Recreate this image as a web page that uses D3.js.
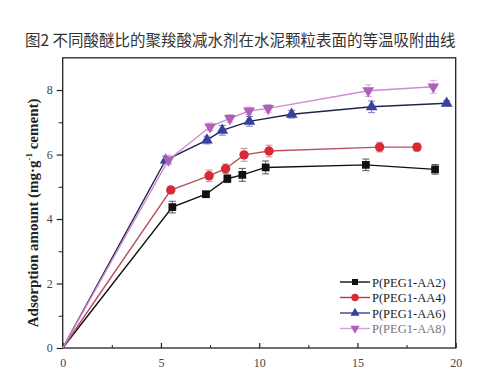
<!DOCTYPE html>
<meta charset="utf-8">
<style>
body { margin: 0; background: #fff; }
.title { font-family: "Noto Sans CJK SC", sans-serif; font-size: 15.5px; fill: #333; }
.axis text { font-family: "Liberation Serif", serif; font-size: 12px; fill: #444; }
.ylab { font-family: "Liberation Serif", serif; font-size: 15px; font-weight: bold; fill: #222; }
.legend text { font-family: "Liberation Serif", serif; font-size: 12.5px; }
</style>
<body>
<div id="chart"></div>
<script src="https://d3js.org/d3.v7.min.js"></script>
<script>

// time (x) and adsorption (y) for each polymer, with error bars
var names = ["P(PEG1-AA2)", "P(PEG1-AA4)", "P(PEG1-AA6)", "P(PEG1-AA8)"];
var xAA2 = [0, 5.58, 7.29, 8.38, 9.14, 10.33, 15.43, 18.95];
var yAA2 = [0, 4.37, 4.77, 5.25, 5.37, 5.60, 5.68, 5.54];
var eAA2 = [0, 0.18, 0.08, 0.12, 0.2, 0.2, 0.18, 0.15];
var xAA4 = [0, 5.50, 7.45, 8.29, 9.23, 10.5, 16.13, 18.03];
var yAA4 = [0, 4.90, 5.34, 5.56, 5.99, 6.11, 6.23, 6.23];
var eAA4 = [0, 0.1, 0.18, 0.15, 0.2, 0.18, 0.15, 0.12];
var xAA6 = [0, 5.24, 7.34, 8.12, 9.5, 11.65, 15.72, 19.54];
var yAA6 = [0, 5.83, 6.45, 6.75, 7.03, 7.25, 7.48, 7.59];
var eAA6 = [0, 0.12, 0.12, 0.15, 0.15, 0.12, 0.18, 0.08];
var xAA8 = [0, 5.38, 7.5, 8.51, 9.48, 10.46, 15.55, 18.86];
var yAA8 = [0, 5.83, 6.86, 7.12, 7.35, 7.43, 7.98, 8.10];
var eAA8 = [0, 0.15, 0.12, 0.12, 0.12, 0.12, 0.18, 0.2];
var xTicks = [0, 5, 10, 15, 20];
var yTicks = [0, 2, 4, 6, 8];

var series = [
  {name: names[0], x: xAA2, y: yAA2, e: eAA2, line: "#111", fill: "#111", err: "#555", sym: d3.symbolSquare, size: 60},
  {name: names[1], x: xAA4, y: yAA4, e: eAA4, line: "#b8505c", fill: "#d62a35", err: "#e08890", sym: d3.symbolCircle, size: 70},
  {name: names[2], x: xAA6, y: yAA6, e: eAA6, line: "#22224e", fill: "#38409e", err: "#7a7fb8", sym: d3.symbolTriangle, size: 60},
  {name: names[3], x: xAA8, y: yAA8, e: eAA8, line: "#d08ad0", fill: "#b060b8", err: "#d8a8d8", sym: d3.symbolTriangle, size: 60, flip: true}
];

var W = 485, H = 371;
var svg = d3.select("#chart").append("svg").attr("width", W).attr("height", H);

svg.append("text").attr("class", "title")
  .attr("x", 25).attr("y", 46)
  .text("图2 不同酸醚比的聚羧酸减水剂在水泥颗粒表面的等温吸附曲线");

var x = d3.scaleLinear().domain([0, 20]).range([62.7, 455.7]);
var y = d3.scaleLinear().domain([0, 9]).range([348, 57.8]);

// frame
var g = svg.append("g");
g.append("rect").attr("x", x(0)).attr("y", y(9)).attr("width", x(20) - x(0)).attr("height", y(0) - y(9))
  .attr("fill", "none").attr("stroke", "#222").attr("stroke-width", 1.3);

// x axis, ticks inward
var xAxis = g.append("g").attr("class", "axis").attr("transform", "translate(0," + y(0) + ")")
  .call(d3.axisBottom(x).tickValues(xTicks).tickSize(-5).tickPadding(10).tickFormat(d3.format("d")));
xAxis.select(".domain").remove();
xAxis.selectAll("line").attr("stroke", "#222").attr("stroke-width", 1.2);
g.append("g").attr("transform", "translate(0," + y(0) + ")")
  .call(d3.axisBottom(x).tickValues([2.5, 7.5, 12.5, 17.5]).tickSize(-3).tickFormat(""))
  .call(s => s.select(".domain").remove())
  .selectAll("line").attr("stroke", "#222");

// y axis, ticks outward
var yAxis = g.append("g").attr("class", "axis").attr("transform", "translate(" + x(0) + ",0)")
  .call(d3.axisLeft(y).tickValues(yTicks).tickSize(6).tickPadding(4).tickFormat(d3.format("d")));
yAxis.select(".domain").remove();
yAxis.selectAll("line").attr("stroke", "#222").attr("stroke-width", 1.2);
g.append("g").attr("transform", "translate(" + x(0) + ",0)")
  .call(d3.axisLeft(y).tickValues([1, 3, 5, 7]).tickSize(4).tickFormat(""))
  .call(s => s.select(".domain").remove())
  .selectAll("line").attr("stroke", "#222");

svg.append("text").attr("class", "ylab")
  .attr("transform", "translate(38," + ((y(0) + y(9)) / 2 + 10) + ") rotate(-90)")
  .attr("text-anchor", "middle")
  .html("Adsorption amount (mg·g<tspan dy='-6' font-size='9'>-1</tspan><tspan dy='6'> cement)</tspan>");

var line = d3.line().x(d => x(d[0])).y(d => y(d[1]));

series.forEach(function(s) {
  var pts = s.x.map((v, i) => [v, s.y[i], s.e[i]]);
  var sg = svg.append("g");
  sg.append("path").datum(pts).attr("d", line).attr("fill", "none")
    .attr("stroke", s.line).attr("stroke-width", 1.4);
  pts.slice(1).forEach(function(p) {
    var cx = x(p[0]), y1 = y(p[1] + p[2]), y2 = y(p[1] - p[2]);
    sg.append("line").attr("x1", cx).attr("x2", cx).attr("y1", y1).attr("y2", y2).attr("stroke", s.err);
    [y1, y2].forEach(function(yy) {
      sg.append("line").attr("x1", cx - 3.5).attr("x2", cx + 3.5).attr("y1", yy).attr("y2", yy).attr("stroke", s.err);
    });
  });
  sg.selectAll("path.m").data(pts.slice(1)).join("path").attr("class", "m")
    .attr("d", d3.symbol().type(s.sym).size(s.size))
    .attr("transform", p => "translate(" + x(p[0]) + "," + y(p[1]) + ")" + (s.flip ? " rotate(180)" : ""))
    .attr("fill", s.fill);
});

// legend
var leg = svg.append("g").attr("class", "legend");
series.forEach(function(s, i) {
  var ly = 282 + i * 15.5;
  leg.append("line").attr("x1", 340).attr("x2", 370).attr("y1", ly).attr("y2", ly)
    .attr("stroke", s.line === "#d08ad0" ? "#d8a0d8" : s.fill).attr("stroke-width", 1.4);
  leg.append("path").attr("d", d3.symbol().type(s.sym).size(s.size * 0.6))
    .attr("transform", "translate(355," + ly + ")" + (s.flip ? " rotate(180)" : ""))
    .attr("fill", s.fill);
  leg.append("text").attr("x", 372).attr("y", ly + 4.5)
    .attr("fill", i === 3 ? "#777" : "#222").text(s.name);
});

</script>
</body>
</html>
